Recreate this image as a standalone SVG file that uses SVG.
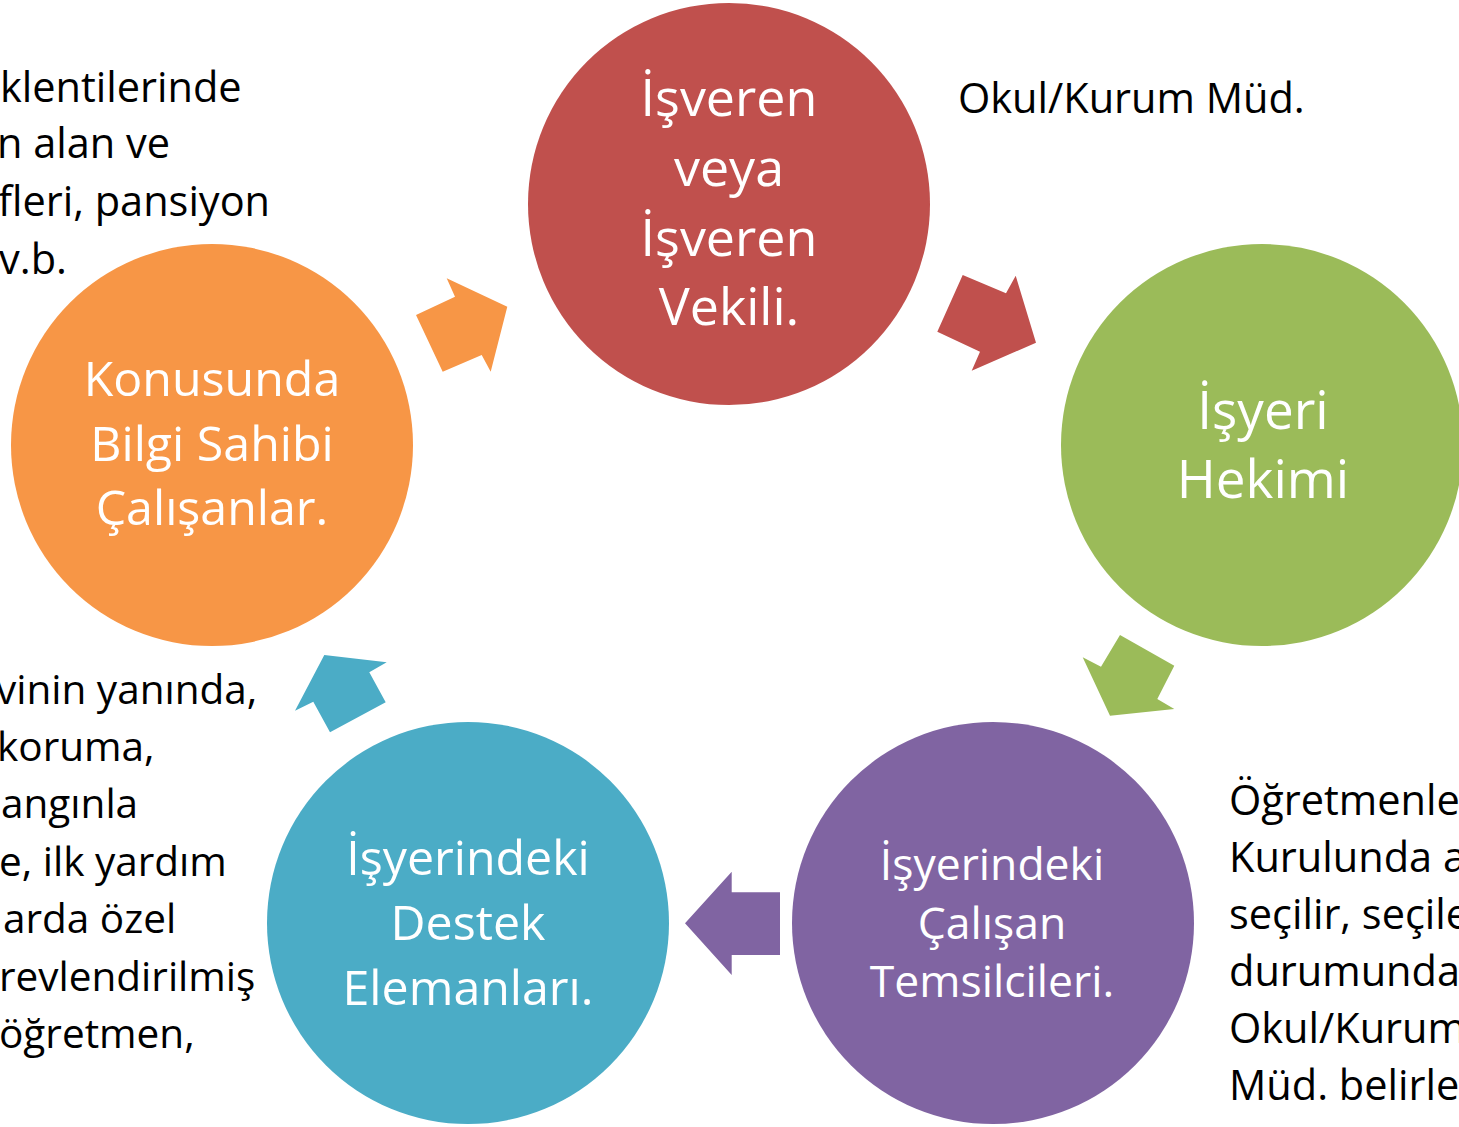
<svg xmlns="http://www.w3.org/2000/svg" width="1459" height="1127" viewBox="0 0 1459 1127">
  <style>
    .lbl { font-family: "Open Sans", "Noto Sans", "DejaVu Sans", sans-serif; fill: #ffffff; text-anchor: middle; }
    .note { font-family: "Open Sans", "Noto Sans", "DejaVu Sans", sans-serif; fill: #000000; font-size: 41.5px; }
  </style>
  <rect x="0" y="0" width="1459" height="1127" fill="#ffffff"/>

  <g id="connectors">
    <polygon points="442.7,371.7 416,315 455,296.7 446.7,278.3 507.3,306.7 490.7,371.7 481.7,355" fill="#F79646"/>
    <polygon points="962.7,275 1006,293.3 1015.7,275.7 1036,342.7 971.7,370.7 980,351.7 937.3,331.7" fill="#C0504D"/>
    <polygon points="1120,635 1174.3,665.7 1157.3,699 1174.3,709 1110,715.7 1082.7,657.3 1101,666.7" fill="#9BBB59"/>
    <polygon points="780,892.3 780,955 731.7,955 731.7,975 685,923.3 731.7,871.7 731.7,892.3" fill="#8064A2"/>
    <polygon points="330,732.3 385.7,702.3 369.3,672.3 386.7,662.3 324.3,655 295,710.7 313.3,701.7" fill="#4BACC6"/>
  </g>

  <g id="node-isveren">
    <circle cx="729" cy="204" r="201" fill="#C0504D"/>
    <text class="lbl" font-size="52" x="729" y="116">İşveren</text>
    <text class="lbl" font-size="52" x="729" y="186">veya</text>
    <text class="lbl" font-size="52" x="729" y="256">İşveren</text>
    <text class="lbl" font-size="52" x="729" y="325">Vekili.</text>
  </g>

  <g id="node-hekim">
    <circle cx="1262" cy="445" r="201" fill="#9BBB59"/>
    <text class="lbl" font-size="53" x="1263" y="429">İşyeri</text>
    <text class="lbl" font-size="53" x="1263" y="498">Hekimi</text>
  </g>

  <g id="node-temsilci">
    <circle cx="993" cy="923" r="201" fill="#8064A2"/>
    <text class="lbl" font-size="44.5" x="992" y="880">İşyerindeki</text>
    <text class="lbl" font-size="44.5" x="992" y="939">Çalışan</text>
    <text class="lbl" font-size="44.5" x="992" y="997">Temsilcileri.</text>
  </g>

  <g id="node-destek">
    <circle cx="468" cy="923" r="201" fill="#4BACC6"/>
    <text class="lbl" font-size="48.3" x="468" y="875">İşyerindeki</text>
    <text class="lbl" font-size="48.3" x="468" y="940">Destek</text>
    <text class="lbl" font-size="48.3" x="468" y="1005">Elemanları.</text>
  </g>

  <g id="node-bilgi">
    <circle cx="212" cy="445" r="201" fill="#F79646"/>
    <text class="lbl" font-size="48.3" x="212" y="396">Konusunda</text>
    <text class="lbl" font-size="48.3" x="212" y="461">Bilgi Sahibi</text>
    <text class="lbl" font-size="48.3" x="212" y="525">Çalışanlar.</text>
  </g>

  <g id="notes">
    <text class="note" x="958" y="113">Okul/Kurum Müd.</text>

    <text class="note" x="0" y="102">klentilerinde</text>
    <text class="note" x="-3" y="158">n alan ve</text>
    <text class="note" x="-2" y="216">fleri, pansiyon</text>
    <text class="note" x="-1" y="274">v.b.</text>

    <g font-size="40.5">
    <text class="note" x="-4" y="704" style="font-size:40.5px">vinin yanında,</text>
    <text class="note" x="-3" y="761" style="font-size:40.5px">koruma,</text>
    <text class="note" x="1" y="818" style="font-size:40.5px">angınla</text>
    <text class="note" x="-1" y="876" style="font-size:40.5px">e, ilk yardım</text>
    <text class="note" x="3" y="933" style="font-size:40.5px">arda özel</text>
    <text class="note" x="-1" y="991" style="font-size:40.5px">revlendirilmiş</text>
    <text class="note" x="-1" y="1048" style="font-size:40.5px">öğretmen,</text>
    </g>

    <text class="note" x="1229" y="815">Öğretmenle</text>
    <text class="note" x="1229" y="872">Kurulunda a</text>
    <text class="note" x="1229" y="929">seçilir, seçile</text>
    <text class="note" x="1229" y="986">durumunda</text>
    <text class="note" x="1229" y="1043">Okul/Kurum</text>
    <text class="note" x="1229" y="1100">Müd. belirle</text>
  </g>
</svg>
